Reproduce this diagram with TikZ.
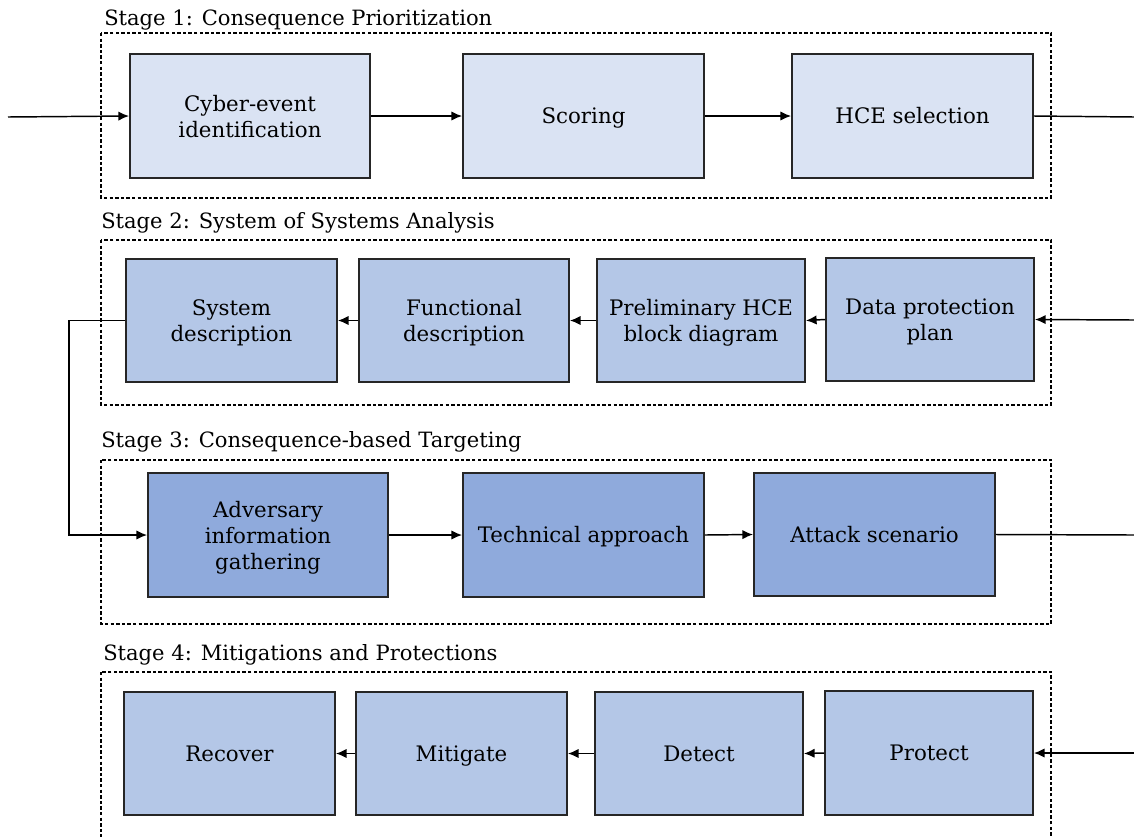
\documentclass[tikz,border=0pt]{standalone}
\usepackage{fontspec}
\setmainfont{DejaVu Serif}
\usetikzlibrary{arrows.meta}

\definecolor{edge}{HTML}{262626}
\definecolor{fillA}{HTML}{DAE3F3}
\definecolor{fillB}{HTML}{B4C7E7}
\definecolor{fillC}{HTML}{8FAADC}

\tikzset{
  stagebox/.style={draw=black, line width=0.9pt, dash pattern=on 2.6pt off 1.6pt},
  stagelabel/.style={anchor=base west, inner sep=0pt, font=\fontsize{15.8}{19.5}\selectfont},
  block/.style={draw=edge, line width=1.4pt, align=center, inner sep=0pt,
    font=\fontsize{16}{19.5}\selectfont},
  oneline/.style={text height=11.7pt, text depth=0pt},
  blockA/.style={block, fill=fillA},
  blockB/.style={block, fill=fillB},
  blockC/.style={block, fill=fillC},
  arr/.style={line width=1.1pt, draw=black, -{Latex[length=8pt,width=7pt]}},
  link/.style={line width=1.1pt, draw=black},
}

\begin{document}
\begin{tikzpicture}[x=0.75pt, y=-0.75pt]
\clip (0,0) rectangle (1134,836);
\fill[white] (0,0) rectangle (1134,836);

% ---- Stage frames and titles ----
\draw[stagebox] (101,33) rectangle (1051,198);
\draw[stagebox] (101,240) rectangle (1051,405);
\draw[stagebox] (101,460) rectangle (1051,624);
\draw[stagebox] (101,672) rectangle (1051,850);

\node[stagelabel] (t1) at (104,25) {Stage 1: Consequence Prioritization};
\node[stagelabel] (t2) at (101,228) {Stage 2: System of Systems Analysis};
\node[stagelabel] (t3) at (101,447) {Stage 3: Consequence-based Targeting};
\node[stagelabel] (t4) at (103,660) {Stage 4: Mitigations and Protections};

% ---- Stage 1 ----
\node[blockA, minimum width=180pt, minimum height=93pt] (cyb) at (250,116) {Cyber-event\\\smash{identification}};
\node[blockA, oneline, minimum width=180.75pt, minimum height=93pt] (sco) at (583.5,116) {Scoring};
\node[blockA, oneline, minimum width=180.75pt, minimum height=93pt] (hce) at (912.5,116) {HCE selection};

% ---- Stage 2 ----
\node[blockB, minimum width=158.25pt, minimum height=92.25pt] (sys) at (231.5,320.5) {System\\\smash{description}};
\node[blockB, minimum width=157.5pt, minimum height=92.25pt] (fun) at (464,320.5) {Functional\\\smash{description}};
\node[blockB, minimum width=156pt, minimum height=92.25pt] (pre) at (701,320.5) {Preliminary HCE\\\smash{block diagram}};
\node[blockB, minimum width=156pt, minimum height=92.25pt] (dpp) at (930,319.5) {Data protection\\\smash{plan}};

% ---- Stage 3 ----
\node[blockC, minimum width=180pt, minimum height=93pt] (adv) at (268,535) {Adversary\\information\\\smash{gathering}};
\node[blockC, oneline, minimum width=180.75pt, minimum height=93pt] (tec) at (583.5,535) {Technical approach};
\node[blockC, oneline, minimum width=180.75pt, minimum height=92.25pt] (att) at (874.5,534.5) {Attack scenario};

% ---- Stage 4 ----
\node[blockB, oneline, minimum width=158.25pt, minimum height=92.25pt] (rec) at (229.5,753.5) {Recover};
\node[blockB, oneline, minimum width=158.25pt, minimum height=92.25pt] (mit) at (461.5,753.5) {Mitigate};
\node[blockB, oneline, minimum width=156pt, minimum height=92.25pt] (det) at (699,753.5) {Detect};
\node[blockB, oneline, minimum width=156pt, minimum height=93pt] (pro) at (929,753) {Protect};

% ---- Free connector ends ----
\coordinate (in1) at (8,117);
\coordinate (out1) at (1134,117);
\coordinate (in2) at (1134,320);
\coordinate (bend) at (69,0);
\coordinate (out3) at (1134,535);
\coordinate (in4) at (1134,753);

% ---- Connectors ----
\draw[arr] (in1) -- (cyb.west);
\draw[arr] (cyb.east) -- (sco.west);
\draw[arr] (sco.east) -- (hce.west);
\draw[link] (hce.east) -- (out1);

\draw[arr] (in2) -- (dpp.east);
\draw[arr] (dpp.west) -- (pre.east);
\draw[arr] (pre.west) -- (fun.east);
\draw[arr] (fun.west) -- (sys.east);
\draw[arr] (sys.west) -- (sys.west -| bend) |- (adv.west);

\draw[arr] (adv.east) -- (tec.west);
\draw[arr] (tec.east) -- (att.west);
\draw[link] (att.east) -- (out3);

\draw[arr] (in4) -- (pro.east);
\draw[arr] (pro.west) -- (det.east);
\draw[arr] (det.west) -- (mit.east);
\draw[arr] (mit.west) -- (rec.east);
\end{tikzpicture}
\end{document}
